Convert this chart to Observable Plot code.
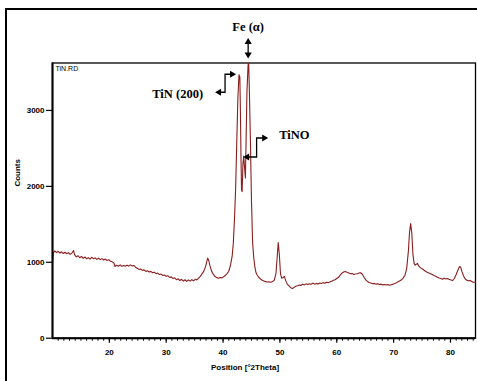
<!DOCTYPE html>
<html><head><meta charset="utf-8">
<script src="https://cdn.jsdelivr.net/npm/d3@7"></script>
<script src="https://cdn.jsdelivr.net/npm/@observablehq/plot@0.6"></script>
<style>
body{margin:0;background:#fff;}
#wrap{position:relative;width:477px;height:381px;overflow:hidden;background:#fff;}
#border{position:absolute;left:4.5px;top:7.8px;width:540px;height:440px;border:2.5px solid #000;box-sizing:border-box;}
#chart{position:absolute;left:0;top:0;}
</style></head><body>
<div id="wrap"><div id="border"></div><div id="chart"></div></div>
<script>
const position = [10.0,10.15,10.4,10.7,11.0,11.3,11.6,11.9,12.2,12.5,12.8,13.1,13.4,13.7,13.9,14.2,14.5,14.8,15.1,15.4,15.7,16.0,16.3,16.6,16.9,17.2,17.5,17.8,18.1,18.4,18.7,19.0,19.3,19.6,19.9,20.2,20.5,20.8,21.0,21.3,21.6,21.9,22.2,22.5,22.8,23.1,23.4,23.7,24.0,24.3,24.6,24.9,25.2,25.5,25.8,26.1,26.4,26.7,27.0,27.3,27.6,27.9,28.2,28.5,28.8,29.1,29.4,29.7,30.0,30.3,30.6,30.9,31.2,31.5,31.8,32.1,32.4,32.7,33.0,33.3,33.6,33.9,34.2,34.5,34.8,35.1,35.4,35.7,36.0,36.3,36.6,36.9,37.1,37.3,37.5,37.7,38.0,38.3,38.6,38.9,39.2,39.5,39.8,40.1,40.4,40.7,41.0,41.3,41.6,41.8,42.0,42.2,42.4,42.6,42.8,42.95,43.05,43.15,43.25,43.35,43.5,43.63,43.78,43.93,44.05,44.2,44.4,44.5,44.6,44.8,45.0,45.2,45.4,45.6,45.8,46.0,46.3,46.6,46.9,47.2,47.5,47.8,48.1,48.4,48.7,49.0,49.3,49.5,49.7,49.9,50.1,50.3,50.5,50.8,51.0,51.3,51.6,51.9,52.2,52.5,52.8,53.1,53.4,53.7,54.0,54.3,54.6,54.9,55.2,55.5,55.8,56.1,56.4,56.7,57.0,57.3,57.6,57.9,58.2,58.5,58.8,59.1,59.4,59.7,60.0,60.3,60.6,60.9,61.2,61.5,61.8,62.1,62.4,62.7,63.0,63.3,63.6,63.9,64.2,64.5,64.8,65.1,65.4,65.7,66.0,66.3,66.6,66.9,67.2,67.5,67.8,68.1,68.4,68.7,69.0,69.3,69.6,69.9,70.2,70.5,70.8,71.1,71.4,71.7,72.0,72.3,72.6,72.8,73.0,73.2,73.4,73.6,73.8,74.0,74.2,74.4,74.7,75.0,75.3,75.6,75.9,76.2,76.5,76.8,77.1,77.4,77.7,78.0,78.3,78.6,78.9,79.2,79.5,79.8,80.1,80.4,80.7,81.0,81.3,81.6,81.8,82.0,82.3,82.6,82.9,83.2,83.5,83.8,84.1,84.4];
const counts = [990,1120,1150,1128,1145,1122,1138,1115,1132,1112,1127,1104,1120,1155,1098,1072,1086,1060,1078,1052,1070,1046,1062,1042,1066,1048,1058,1038,1054,1035,1048,1030,1042,1024,1034,1014,1006,990,945,962,948,966,946,958,948,962,950,966,952,958,935,922,906,912,894,900,880,890,872,880,862,870,850,858,838,845,826,832,815,822,800,808,786,795,770,782,760,776,752,770,748,768,752,772,756,776,768,792,815,848,880,940,1000,1055,1020,952,880,840,812,798,790,800,795,810,826,850,882,960,1080,1250,1550,1950,2550,3150,3470,3440,3000,2400,1950,1930,2300,2400,2250,2110,2600,3250,3600,3625,3350,2650,1800,1250,1060,935,862,832,800,780,762,752,745,740,744,738,746,762,850,1050,1260,1100,850,790,796,812,762,712,690,666,655,670,685,690,702,695,712,702,716,706,718,710,726,712,722,715,728,720,732,725,738,730,742,750,762,770,786,802,830,856,872,878,868,860,848,852,840,846,850,858,862,842,802,768,748,735,726,718,722,712,718,708,712,702,708,700,706,698,705,712,720,730,745,756,770,795,830,920,1150,1400,1510,1380,1100,985,962,975,985,952,930,915,898,882,870,858,848,838,826,815,802,792,786,776,790,780,786,772,766,760,790,840,895,945,935,880,820,780,762,756,760,742,738,736];
const xMajorTicks = [20,30,40,50,60,70,80];
const xMinorTicks = d3.range(11, 85, 1);
const yTicks = [0,1000,2000,3000];
const xLabel = "Position [°2Theta]";
const yLabel = "Counts";
const fileLabel = "TiN.RD";
const annotations = [
  {label: "Fe (α)", x: 44.5, y: 3625},
  {label: "TiN (200)", x: 42.9, y: 3470},
  {label: "TiNO", x: 43.63, y: 2380}
];

const data = position.map((p, i) => ({position: p, counts: counts[i]}));

const plot = Plot.plot({
  width: 477,
  height: 381,
  marginLeft: 52,
  marginRight: 2,
  marginTop: 62.5,
  marginBottom: 43.3,
  style: {fontFamily: "'Liberation Sans', Arial, sans-serif", fontSize: "8px", fontWeight: "bold", background: "transparent", color: "#000"},
  x: {domain: [10, 84.4]},
  y: {domain: [0, 3625]},
  marks: [
    Plot.frame({stroke: "#000", strokeWidth: 1.3}),
    Plot.axisX({ticks: xMajorTicks, tickSize: 5, tickPadding: 6, label: null, strokeWidth: 1.2}),
    Plot.axisX({ticks: xMinorTicks, tickSize: 3, tickFormat: () => "", label: null, strokeWidth: 1}),
    Plot.axisY({ticks: yTicks, tickSize: 6, tickPadding: 2, tickFormat: "d", label: null, strokeWidth: 1.2}),
    Plot.line(data, {x: "position", y: "counts", stroke: "#8a1e1e", strokeWidth: 1.1}),
    Plot.ruleY([0], {stroke: "#000", strokeWidth: 2}),
    Plot.ruleX([10], {stroke: "#000", strokeWidth: 2}),
    Plot.text([fileLabel], {frameAnchor: "top-left", dx: 3, dy: 3, fontSize: 7, fontWeight: "normal", lineAnchor: "top"}),
    Plot.text([xLabel], {frameAnchor: "bottom", dx: -19, dy: 29, fontSize: 8, fontWeight: "bold", lineAnchor: "middle"}),
    Plot.text([yLabel], {frameAnchor: "left", dx: -35, dy: -14, rotate: -90, fontSize: 8, fontWeight: "bold", lineAnchor: "middle"})
  ]
});
document.getElementById("chart").appendChild(plot);

const sx = plot.scale("x"), sy = plot.scale("y");
const g = d3.select(plot).append("g").attr("fill", "#000").attr("stroke", "#000");
const serif = "'Liberation Serif', 'Times New Roman', serif";
function head(tx, ty, dir) {
  const L = 6, W = 3.6;
  let pts;
  if (dir === "right") pts = [[tx, ty], [tx - L, ty - W], [tx - L, ty + W]];
  else if (dir === "left") pts = [[tx, ty], [tx + L, ty - W], [tx + L, ty + W]];
  else if (dir === "up") pts = [[tx, ty], [tx - W, ty + L], [tx + W, ty + L]];
  else pts = [[tx, ty], [tx - W, ty - L], [tx + W, ty - L]];
  g.append("polygon").attr("points", pts.map(p => p.join(",")).join(" ")).attr("stroke", "none");
}
function line(pts) {
  g.append("polyline").attr("points", pts.map(p => p.join(",")).join(" ")).attr("fill", "none").attr("stroke-width", 1.3);
}
function label(text, x, y, anchor) {
  g.append("text").attr("x", x).attr("y", y).attr("text-anchor", anchor).attr("dominant-baseline", "middle")
    .attr("stroke", "none").attr("font-family", serif).attr("font-size", 12.5).attr("font-weight", "bold").text(text);
}
// Fe (alpha)
{
  const a = annotations[0], ax = sx.apply(a.x), ay = sy.apply(a.y);
  line([[ax, ay - 9], [ax, ay - 19]]);
  head(ax, ay - 4, "down");
  head(ax, ay - 24.5, "up");
  label(a.label, ax, ay - 34, "middle");
}
// TiN (200)
{
  const a = annotations[1], ax = sx.apply(a.x), ay = sy.apply(a.y);
  line([[ax - 23 + 5, ay + 18], [ax - 14, ay + 18], [ax - 14, ay], [ax - 8, ay]]);
  head(ax - 3, ay, "right");
  head(ax - 24, ay + 18, "left");
  label(a.label, ax - 36, ay + 21, "end");
}
// TiNO
{
  const a = annotations[2], ax = sx.apply(a.x), ay = sy.apply(a.y);
  line([[ax + 5, ay], [ax + 13.4, ay], [ax + 13.4, ay - 19], [ax + 20, ay - 19]]);
  head(ax, ay, "left");
  head(ax + 25, ay - 19, "right");
  label(a.label, ax + 36, ay - 21, "start");
}
</script>
</body></html>
